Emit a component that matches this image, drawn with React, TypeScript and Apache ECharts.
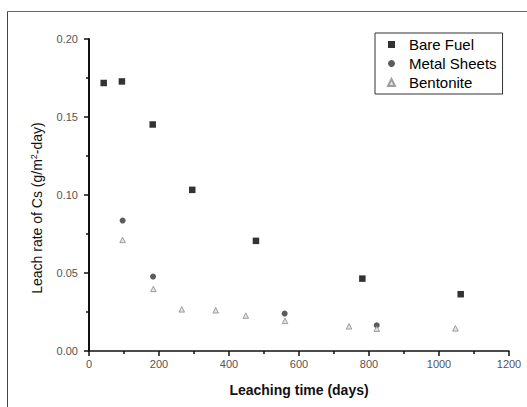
import React, { useEffect, useRef } from "react";
import * as echarts from "echarts";

const bareFuelX = [42, 94, 182, 295, 477, 781, 1062];
const bareFuelY = [0.1718, 0.1728, 0.1452, 0.1033, 0.0706, 0.0464, 0.0364];
const metalX = [96, 183, 559, 822];
const metalY = [0.0836, 0.0477, 0.024, 0.0165];
const bentoniteX = [96, 184, 265, 362, 448, 560, 743, 822, 1047];
const bentoniteY = [0.0712, 0.0398, 0.0267, 0.0261, 0.0227, 0.0193, 0.0158, 0.0143, 0.0145];

const zip = (xs: number[], ys: number[]) => xs.map((x, i) => [x, ys[i]]);

const FONT = "Liberation Sans, Arial, sans-serif";

export default function App() {
  const ref = useRef<HTMLDivElement>(null);
  useEffect(() => {
    document.body.style.margin = "0";
    const chart = echarts.init(ref.current!, null, { renderer: "svg" });
    const tickFont = { fontFamily: FONT, fontSize: 11, color: "#555" };
    chart.setOption({
      animation: false,
      backgroundColor: "#fff",
      grid: { left: 89, right: 18, top: 39, bottom: 56 },
      graphic: [
        {
          type: "line",
          shape: { x1: 7.5, y1: 11.5, x2: 527, y2: 11.5 },
          style: { stroke: "#666", lineWidth: 1 },
          silent: true,
        },
        {
          type: "line",
          shape: { x1: 7.5, y1: 11.5, x2: 7.5, y2: 407 },
          style: { stroke: "#444", lineWidth: 1 },
          silent: true,
        },
      ],
      legend: {
        left: 375,
        top: 33,
        orient: "vertical",
        itemGap: 4,
        itemWidth: 7,
        itemHeight: 7,
        padding: [4, 6, 4, 12],
        borderColor: "#333",
        borderWidth: 1,
        textStyle: { fontFamily: FONT, fontSize: 15, color: "#000", padding: [0, 0, 0, 9] },
        data: [
          { name: "Bare Fuel", icon: "rect" },
          { name: "Metal Sheets", icon: "circle" },
          { name: "Bentonite", icon: "triangle" },
        ],
      },
      xAxis: {
        type: "value",
        min: 0,
        max: 1200,
        interval: 200,
        name: "Leaching time (days)",
        nameLocation: "middle",
        nameGap: 32,
        nameTextStyle: { fontFamily: FONT, fontSize: 14, fontWeight: "bold", color: "#111" },
        axisLine: { show: true, lineStyle: { color: "#111", width: 1.5 } },
        axisTick: { show: true, inside: false, length: 5, lineStyle: { color: "#111", width: 1.5 } },
        minorTick: { show: true, splitNumber: 2, length: 3, lineStyle: { color: "#111", width: 1.5 } },
        axisLabel: { ...tickFont, margin: 7, formatter: (v: number) => String(v) },
        splitLine: { show: false },
      },
      yAxis: {
        type: "value",
        min: 0,
        max: 0.2,
        interval: 0.05,
        name: "Leach rate of Cs (g/m{sup|2}-day)",
        nameLocation: "middle",
        nameGap: 45,
        nameTextStyle: {
          fontFamily: FONT,
          fontSize: 14,
          color: "#111",
          padding: [0, 26, 0, 0],
          rich: { sup: { fontSize: 9, verticalAlign: "top", padding: [0, 0, 6, 0], color: "#111", fontFamily: FONT } },
        },
        axisLine: { show: true, lineStyle: { color: "#111", width: 2 } },
        axisTick: { show: true, inside: false, length: 5, lineStyle: { color: "#111", width: 1.5 } },
        minorTick: { show: true, splitNumber: 2, length: 3, lineStyle: { color: "#111", width: 1.5 } },
        axisLabel: { ...tickFont, margin: 11, formatter: (v: number) => v.toFixed(2) },
        splitLine: { show: false },
      },
      series: [
        {
          name: "Bare Fuel",
          type: "scatter",
          symbol: "rect",
          symbolSize: 6.5,
          itemStyle: { color: "#000" },
          data: zip(bareFuelX, bareFuelY),
        },
        {
          name: "Metal Sheets",
          type: "scatter",
          symbol: "circle",
          symbolSize: 6,
          itemStyle: { color: "#333" },
          data: zip(metalX, metalY),
        },
        {
          name: "Bentonite",
          type: "scatter",
          symbol: "triangle",
          symbolSize: 5.5,
          itemStyle: { color: "#ddd", borderColor: "#888", borderWidth: 1 },
          data: zip(bentoniteX, bentoniteY),
        },
      ],
    });
    return () => chart.dispose();
  }, []);
  return <div ref={ref} style={{ width: 527, height: 407 }} />;
}
